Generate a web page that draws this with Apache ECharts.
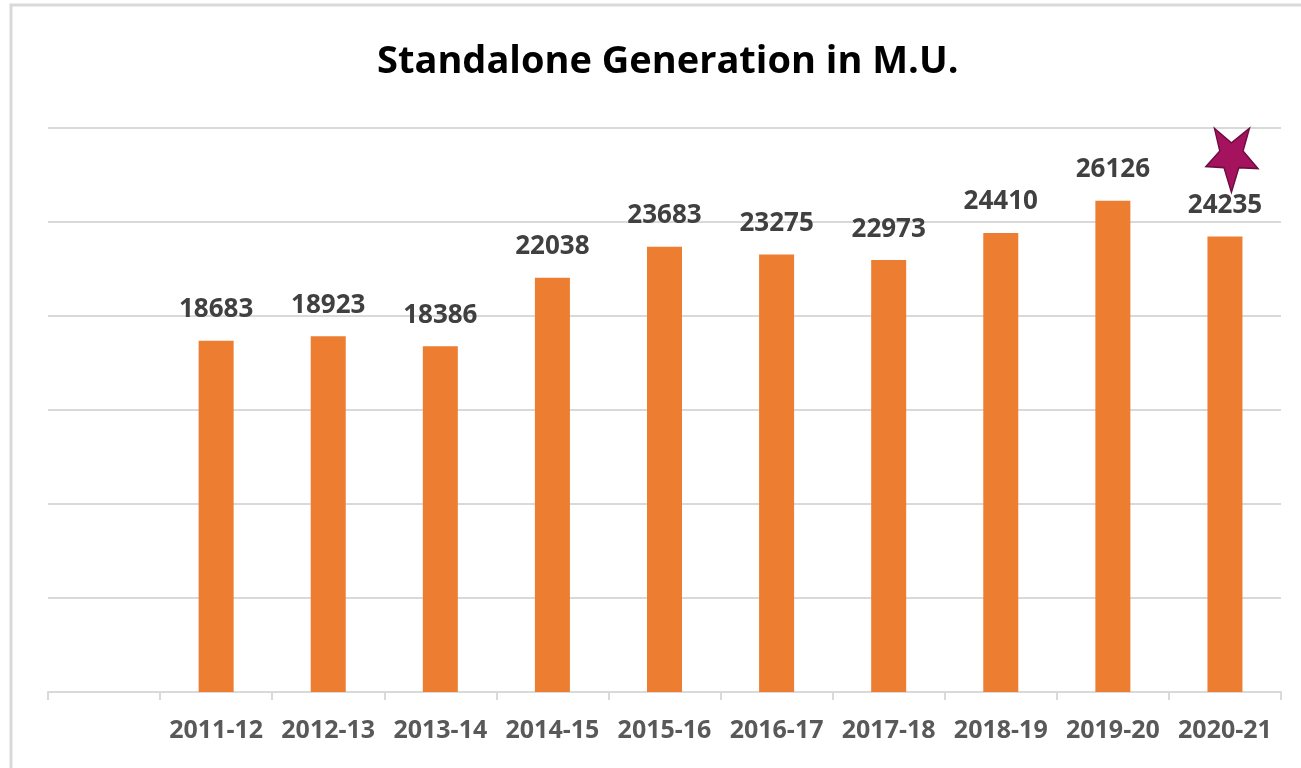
<!DOCTYPE html>
<html>
<head>
<meta charset="utf-8">
<script src="https://cdn.jsdelivr.net/npm/echarts@6/dist/echarts.min.js"></script>
<style>
  html, body { margin: 0; padding: 0; background: #fff; }
  #container { width: 1301px; height: 768px; }
</style>
</head>
<body>
<div id="container"></div>
<script>
var years = ['', '2011-12', '2012-13', '2013-14', '2014-15', '2015-16',
             '2016-17', '2017-18', '2018-19', '2019-20', '2020-21'];
var generation = [null, 18683, 18923, 18386, 22038, 23683,
                  23275, 22973, 24410, 26126, 24235];

// inverted star drawn over the latest year
var starPath = 'path://M8 0 L24 14 L41 0 L35 22 L49 39 L31 38 L24 62 L17 38 L0 37 L13 22 Z';

var dom = document.getElementById('container');
var myChart = echarts.init(dom);

var option = {
    backgroundColor: '#fff',
    title: {
        text: 'Standalone Generation in M.U.',
        left: 372,
        top: 38,
        textStyle: {
            fontFamily: 'Open Sans',
            fontWeight: 'bold',
            fontSize: 38,
            color: '#000'
        }
    },
    graphic: [{
        type: 'rect',
        shape: { x: 11, y: 5, width: 1310, height: 800 },
        style: { fill: 'none', stroke: '#d9d9d9', lineWidth: 3 },
        z: -1
    }],
    grid: {
        left: 48,
        right: 20,
        top: 128,
        bottom: 76
    },
    xAxis: {
        type: 'category',
        data: years,
        axisLine: { lineStyle: { color: '#d9d9d9', width: 2 } },
        axisTick: { show: true, interval: 0, length: 8, lineStyle: { color: '#d9d9d9', width: 2 } },
        axisLabel: {
            interval: 0,
            margin: 26,
            color: '#595959',
            fontFamily: 'Open Sans',
            fontWeight: 'bold',
            fontSize: 25
        }
    },
    yAxis: {
        type: 'value',
        min: 0,
        max: 30000,
        interval: 5000,
        axisLine: { show: false },
        axisTick: { show: false },
        axisLabel: { show: false },
        splitLine: { lineStyle: { color: '#d9d9d9', width: 2 } }
    },
    series: [{
        type: 'bar',
        data: generation,
        barWidth: 35,
        itemStyle: { color: '#ed7d31' },
        label: {
            show: true,
            position: 'top',
            distance: 18,
            color: '#404040',
            fontFamily: 'Open Sans',
            fontWeight: 'bold',
            fontSize: 26
        },
        markPoint: {
            symbol: starPath,
            symbolSize: [52, 64],
            symbolOffset: [7, -76],
            label: { show: false },
            itemStyle: { color: '#a5135f', borderColor: '#6e0d3f', borderWidth: 1.5 },
            data: [{ coord: [years[10], generation[10]] }]
        }
    }]
};

myChart.setOption(option);
</script>
</body>
</html>
